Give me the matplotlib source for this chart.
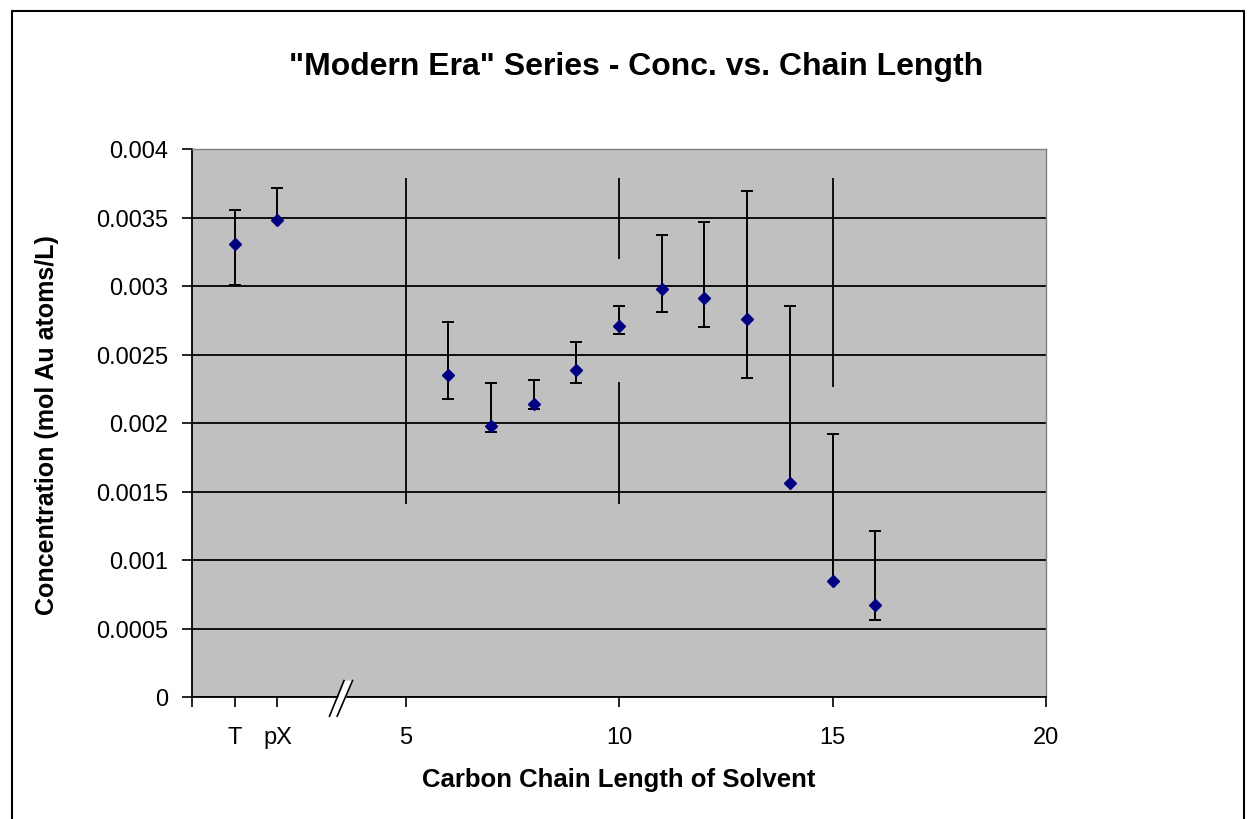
import numpy as np
import matplotlib
matplotlib.use('Agg')
import matplotlib.pyplot as plt
from matplotlib.patches import Rectangle, Polygon
import matplotlib.transforms as mtransforms

plt.rcParams['font.family'] = ['Liberation Sans', 'DejaVu Sans']

# === DATA ===
# x position 1 = toluene (T), 2 = p-xylene (pX), then carbon chain length
chain_x = [1, 2, 6, 7, 8, 9, 10, 11, 12, 13, 14, 15, 16]
conc = [0.00331, 0.00348, 0.00235, 0.00198, 0.00214, 0.00239, 0.00271,
        0.00298, 0.00291, 0.00276, 0.00156, 0.00085, 0.00067]
err_hi = [0.003555, 0.003715, 0.002735, 0.00229, 0.002314, 0.002591, 0.002856,
          0.00337, 0.003467, 0.003693, 0.002855, 0.001917, 0.001212]
err_lo = [0.003007, 0.00348, 0.002173, 0.001932, 0.0021, 0.00229, 0.00265,
          0.002808, 0.002698, 0.002326, 0.00156, 0.00085, 0.000564]

# separator lines (x, ymin, ymax)
sep_x = [5, 10, 10, 15]
sep_lo = [0.00141, 0.00141, 0.00320, 0.002265]
sep_hi = [0.00379, 0.00230, 0.00379, 0.00379]

xtick_pos = [0, 1, 2, 5, 10, 15, 20]
xtick_lab = ['', 'T', 'pX', '5', '10', '15', '20']
ytick_pos = np.arange(0, 0.0041, 0.0005)
ytick_lab = ['0', '0.0005', '0.001', '0.0015', '0.002', '0.0025', '0.003', '0.0035', '0.004']

# === PLOT ===
W, H = 1248, 820
fig = plt.figure(figsize=(W / 100, H / 100), dpi=100)
fig.patch.set_facecolor('white')
ax = fig.add_axes([192/W, 1 - 698/H, (1046 - 192)/W, (698 - 150)/H])
ax.set_facecolor('#C0C0C0')

ax.set_xlim(0, 20)
ax.set_ylim(0, 0.004)
ax.set_yticks(ytick_pos)
ax.set_yticklabels(ytick_lab)
ax.set_xticks(xtick_pos)
ax.set_xticklabels(xtick_lab)
ax.tick_params(axis='both', direction='out', length=7, width=1.2, color='black',
               labelsize=17)
ax.tick_params(axis='y', pad=10)
ax.tick_params(axis='x', pad=14)

ax.yaxis.grid(True, color='black', linewidth=1.3)
ax.set_axisbelow(True)
for side in ['top', 'right']:
    ax.spines[side].set_color('#808080')
    ax.spines[side].set_linewidth(1.0)
for side in ['left', 'bottom']:
    ax.spines[side].set_color('black')
    ax.spines[side].set_linewidth(1.3)

ax.vlines(sep_x, sep_lo, sep_hi, color='black', linewidth=1.3, zorder=3)

# error bars: stems, then caps only where the bar extends past the point
xs = np.array(chain_x)
y = np.array(conc)
hi = np.array(err_hi)
lo = np.array(err_lo)
ax.vlines(xs, lo, hi, color='black', linewidth=1.4, zorder=3)
ax.plot(xs, hi, '_', color='black', markersize=9, markeredgewidth=1.4,
        linestyle='none', zorder=3)
has_lo = lo < y
ax.plot(xs[has_lo], lo[has_lo], '_', color='black', markersize=9,
        markeredgewidth=1.4, linestyle='none', zorder=3)
ax.plot(xs, y, 'D', color='#000080', markersize=6.5, linestyle='none', zorder=4)

# axis break mark
trans = mtransforms.blended_transform_factory(ax.transData, ax.transAxes)
y0, y1 = -0.035, 0.03
ax.add_patch(Polygon([(3.25, y0), (3.42, y0), (3.78, y1), (3.58, y1)],
                     closed=True, facecolor='white', edgecolor='none',
                     transform=trans, clip_on=False, zorder=5))
ax.plot([3.22, 3.56], [y0, y1], color='black', linewidth=1.2, transform=trans,
        clip_on=False, zorder=6)
ax.plot([3.40, 3.76], [y0, y1], color='black', linewidth=1.2, transform=trans,
        clip_on=False, zorder=6)

fig.text(619/W, 1 - 780/H, 'Carbon Chain Length of Solvent', ha='center',
         va='center', fontsize=18.5, fontweight='bold')
fig.text(47/W, 1 - 425/H, 'Concentration (mol Au atoms/L)', ha='center',
         va='center', rotation=90, fontsize=18, fontweight='bold')
fig.text(636/W, 1 - 67/H, '"Modern Era" Series - Conc. vs. Chain Length',
         ha='center', va='center', fontsize=23, fontweight='bold')

# chart border
fig.patches.append(Rectangle((12/W, -0.1), (1244 - 12)/W, 1.1 - 12/H,
                             transform=fig.transFigure, facecolor='none',
                             edgecolor='black', linewidth=1.5))

plt.savefig('out.png', dpi=100)
